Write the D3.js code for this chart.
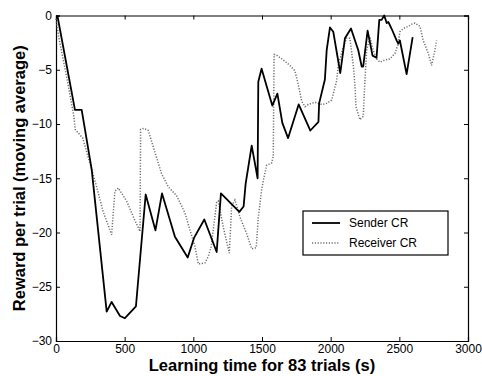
<!DOCTYPE html>
<meta charset="utf-8">
<style>
  body { margin: 0; background: #fff; }
  text { font-family: "Liberation Sans", Arial, sans-serif; }
</style>
<body>
<script src="https://cdn.jsdelivr.net/npm/d3@7"></script>
<script>
// data
var senderX = [10, 138, 187, 260, 369, 405, 466, 502, 582, 653, 724, 772, 866, 959, 1005, 1080, 1170, 1201, 1335, 1366, 1381, 1425, 1468, 1473, 1497, 1575, 1612, 1648, 1690, 1767, 1852, 1911, 1916, 1958, 1971, 1995, 2019, 2070, 2104, 2148, 2201, 2226, 2237, 2269, 2305, 2334, 2354, 2371, 2390, 2408, 2420, 2443, 2480, 2492, 2504, 2553, 2597];
var senderY = [0, -8.7, -8.7, -14.2, -27.3, -26.4, -27.7, -27.9, -26.8, -16.5, -19.8, -16.4, -20.4, -22.3, -20.5, -18.8, -21.8, -16.4, -18.1, -17.6, -15.5, -12.0, -15.0, -6.1, -4.9, -8.3, -7.2, -9.9, -11.3, -8.2, -10.6, -9.8, -8.1, -5.9, -3.2, -1.1, -1.5, -5.3, -2.1, -1.2, -3.2, -4.7, -4.7, -1.4, -3.7, -3.9, -0.4, -0.4, 0, -0.7, -0.6, -1.2, -2.3, -2.6, -2.3, -5.4, -2.0];

var receiverX = [0, 20, 80, 130, 140, 195, 260, 296, 344, 405, 429, 454, 514, 575, 612, 616, 640, 672, 708, 769, 818, 878, 939, 976, 1012, 1036, 1085, 1109, 1130, 1170, 1182, 1218, 1262, 1279, 1303, 1340, 1388, 1425, 1458, 1473, 1497, 1510, 1534, 1570, 1582, 1588, 1600, 1655, 1703, 1740, 1765, 1789, 1813, 1837, 1886, 1935, 1971, 2007, 2044, 2055, 2092, 2116, 2140, 2165, 2177, 2184, 2213, 2237, 2250, 2262, 2286, 2310, 2334, 2359, 2395, 2432, 2468, 2492, 2504, 2529, 2565, 2590, 2614, 2650, 2674, 2711, 2735, 2759, 2771];
var receiverY = [-0.3, -2.0, -5.8, -9.3, -10.5, -11.3, -14.2, -15.8, -18.1, -20.2, -16.2, -15.9, -17.1, -18.9, -19.9, -10.5, -10.4, -10.6, -12.1, -14.6, -15.8, -16.6, -18.2, -19.8, -21.3, -22.9, -22.8, -22.2, -21.3, -17.2, -17.1, -19.5, -21.9, -17.6, -17.0, -18.6, -20.1, -21.5, -21.4, -18.6, -16.1, -15.2, -13.8, -13.6, -13.0, -3.6, -3.6, -4.1, -4.6, -5.1, -6.4, -7.9, -8.4, -8.2, -8.0, -8.2, -8.1, -7.8, -6.0, -4.6, -2.9, -2.1, -2.1, -4.6, -6.5, -8.4, -9.6, -9.3, -5.9, -3.2, -2.0, -3.2, -4.0, -4.3, -4.1, -4.0, -3.5, -2.6, -1.5, -1.2, -1.0, -0.8, -0.7, -1.0, -2.3, -3.5, -4.6, -3.2, -2.3];

var xTicks = [0, 500, 1000, 1500, 2000, 2500, 3000];
var yTicks = [-30, -25, -20, -15, -10, -5, 0];
var seriesNames = ["Sender CR", "Receiver CR"];

var W = 482, H = 376;
var margin = {top: 15.5, right: 14, bottom: 35, left: 56};
var width = W - margin.left - margin.right,
    height = H - margin.top - margin.bottom;

var svg = d3.select("body").append("svg")
    .attr("width", W)
    .attr("height", H);
var g = svg.append("g")
    .attr("transform", "translate(" + margin.left + "," + margin.top + ")");

var x = d3.scaleLinear().domain([0, 3000]).range([0, width]);
var y = d3.scaleLinear().domain([-30, 0]).range([height, 0]);

var fmt = function(d) { return d < 0 ? "\u2212" + Math.abs(d) : d; };

// axes, ticks pointing inward (matlab style)
var xb = g.append("g").attr("transform", "translate(0," + height + ")")
  .call(d3.axisBottom(x).tickValues(xTicks).tickSize(-4).tickPadding(3).tickFormat(fmt));
var xt = g.append("g")
  .call(d3.axisTop(x).tickValues(xTicks).tickSize(-4).tickFormat(""));
var yl = g.append("g")
  .call(d3.axisLeft(y).tickValues(yTicks).tickSize(-4).tickPadding(4).tickFormat(fmt));
var yr = g.append("g").attr("transform", "translate(" + width + ",0)")
  .call(d3.axisRight(y).tickValues(yTicks).tickSize(-4).tickFormat(""));

[xb, xt, yl, yr].forEach(function(a) {
  a.select(".domain").attr("stroke", "#000").attr("stroke-width", 1.2);
  a.selectAll(".tick line").attr("stroke", "#000");
  a.selectAll("text").attr("font-size", 12).attr("fill", "#000")
    .style("font-family", "Liberation Sans, Arial, sans-serif");
});

var line = d3.line()
    .x(function(d) { return x(d[0]); })
    .y(function(d) { return y(d[1]); });

var rec = d3.zip(receiverX, receiverY);
var snd = d3.zip(senderX, senderY);

g.append("path").datum(rec)
  .attr("d", line)
  .attr("fill", "none")
  .attr("stroke", "#707070")
  .attr("stroke-width", 1.5)
  .attr("stroke-dasharray", "1.2,1.6");

g.append("path").datum(snd)
  .attr("d", line)
  .attr("fill", "none")
  .attr("stroke", "#000")
  .attr("stroke-width", 1.8)
  .attr("stroke-linejoin", "round");

// legend
var lg = svg.append("g").attr("transform", "translate(303,211)");
lg.append("rect").attr("width", 145).attr("height", 44)
  .attr("fill", "#fff").attr("stroke", "#000").attr("stroke-width", 1.2);
lg.append("line").attr("x1", 9).attr("x2", 37).attr("y1", 12).attr("y2", 12)
  .attr("stroke", "#000").attr("stroke-width", 1.8);
lg.append("line").attr("x1", 9).attr("x2", 37).attr("y1", 32).attr("y2", 32)
  .attr("stroke", "#707070").attr("stroke-width", 1.5).attr("stroke-dasharray", "1.2,1.6");
lg.selectAll("text.lab").data(seriesNames).enter().append("text")
  .attr("class", "lab")
  .attr("x", 46)
  .attr("y", function(d, i) { return 16 + i * 20; })
  .attr("font-size", 12)
  .text(function(d) { return d; });

// axis titles
svg.append("text")
  .attr("x", margin.left + width / 2)
  .attr("y", 371)
  .attr("text-anchor", "middle")
  .attr("font-size", 16.5)
  .attr("font-weight", "bold")
  .text("Learning time for 83 trials (s)");

svg.append("text")
  .attr("transform", "translate(25," + (margin.top + height / 2) + ") rotate(-90)")
  .attr("text-anchor", "middle")
  .attr("font-size", 16.5)
  .attr("font-weight", "bold")
  .text("Reward per trial (moving average)");
</script>
</body>
